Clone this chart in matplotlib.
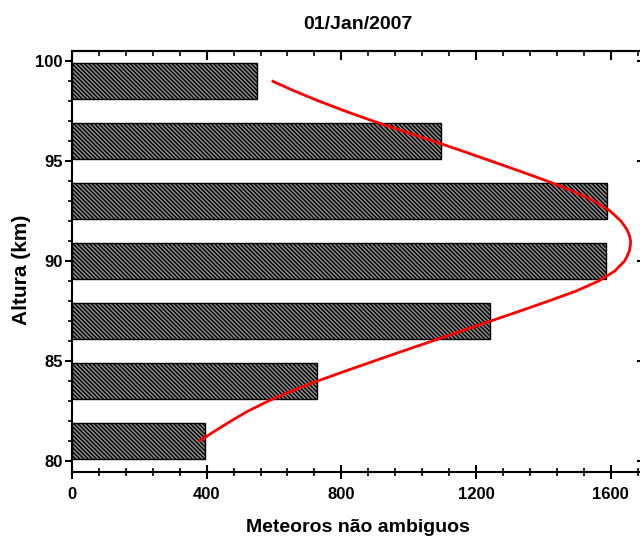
import numpy as np
import matplotlib
matplotlib.use('Agg')
import matplotlib.pyplot as plt
from matplotlib.ticker import MultipleLocator

plt.rcParams['font.family'] = ['Liberation Sans', 'DejaVu Sans']
plt.rcParams['font.weight'] = 'bold'
plt.rcParams['hatch.linewidth'] = 1.0
plt.rcParams['hatch.color'] = 'black'

# bar data (altitude centre in km, meteor count)
altitudes = [99, 96, 93, 90, 87, 84, 81]
counts = [550, 1095, 1590, 1585, 1240, 727, 395]

# red fit curve
fit_alt = [99.0, 98.5, 98.0, 97.5, 97.0, 96.5, 96.0, 95.5, 95.0, 94.5, 94.0,
           93.5, 93.0, 92.5, 92.0, 91.75, 91.5, 91.25, 91.0, 90.75, 90.5,
           90.25, 90.0, 89.5, 89.0, 88.5, 88.0, 87.5, 87.0, 86.5, 86.0, 85.5,
           85.0, 84.5, 84.0, 83.5, 83.0, 82.5, 82.0, 81.5, 81.0]
fit_count = [593, 659, 731, 809, 892, 980, 1070, 1158, 1243, 1328, 1410,
             1486, 1550, 1598, 1630, 1641, 1650, 1656, 1659, 1658, 1655,
             1649, 1641, 1612, 1564, 1497, 1415, 1330, 1243, 1156, 1069, 982,
             896, 811, 728, 651, 582, 522, 471, 423, 378]

fig = plt.figure(figsize=(6.4, 5.36), dpi=100)
ax = fig.add_axes([0.1125, 0.1188, 0.8944, 0.7866])

ax.barh(altitudes, counts, height=1.8, color='#8c8c8c', edgecolor='black',
        linewidth=1.0, hatch='\\\\\\\\\\\\\\\\', zorder=2)
ax.plot(fit_count, fit_alt, color='red', linewidth=2, zorder=3,
        solid_joinstyle='round', solid_capstyle='butt')

ax.set_xlim(0, 1700)
ax.set_ylim(79.45, 100.5)

ax.xaxis.set_major_locator(MultipleLocator(400))
ax.xaxis.set_minor_locator(MultipleLocator(80))
ax.yaxis.set_major_locator(MultipleLocator(5))
ax.yaxis.set_minor_locator(MultipleLocator(1))

for s in ax.spines.values():
    s.set_linewidth(1.5)

ax.tick_params(axis='x', which='major', direction='inout', length=9.5, width=1.5,
               labelsize=12, pad=6, top=False)
ax.tick_params(axis='x', which='minor', direction='inout', length=6, width=1.2, top=False)
ax.tick_params(axis='y', which='major', direction='out', length=5, width=1.5,
               labelsize=12, pad=1.5, right=False)
ax.tick_params(axis='y', which='minor', direction='out', length=3, width=1.2, right=False)

# top and right axes carry inward ticks only
top = ax.secondary_xaxis('top')
top.xaxis.set_major_locator(MultipleLocator(400))
top.xaxis.set_minor_locator(MultipleLocator(80))
top.tick_params(which='major', direction='in', length=6.5, width=1.5, labeltop=False)
top.tick_params(which='minor', direction='in', length=3.3, width=1.2)
top.spines['top'].set_linewidth(1.5)

right = ax.secondary_yaxis('right')
right.yaxis.set_major_locator(MultipleLocator(5))
right.yaxis.set_minor_locator(MultipleLocator(1))
right.tick_params(which='major', direction='in', length=5, width=1.5, labelright=False)
right.tick_params(which='minor', direction='in', length=3, width=1.2)
right.spines['right'].set_linewidth(1.5)

for lab in ax.get_xticklabels() + ax.get_yticklabels():
    lab.set_fontweight('bold')

ax.set_xlabel('Meteoros não ambiguos', fontsize=14, fontweight='bold', labelpad=12)
ax.set_ylabel('Altura (km)', fontsize=15, fontweight='bold', labelpad=3.5, y=0.48)
ax.set_title('01/Jan/2007', fontsize=14, fontweight='bold', pad=15.5)

fig.savefig('out.png', dpi=100)
